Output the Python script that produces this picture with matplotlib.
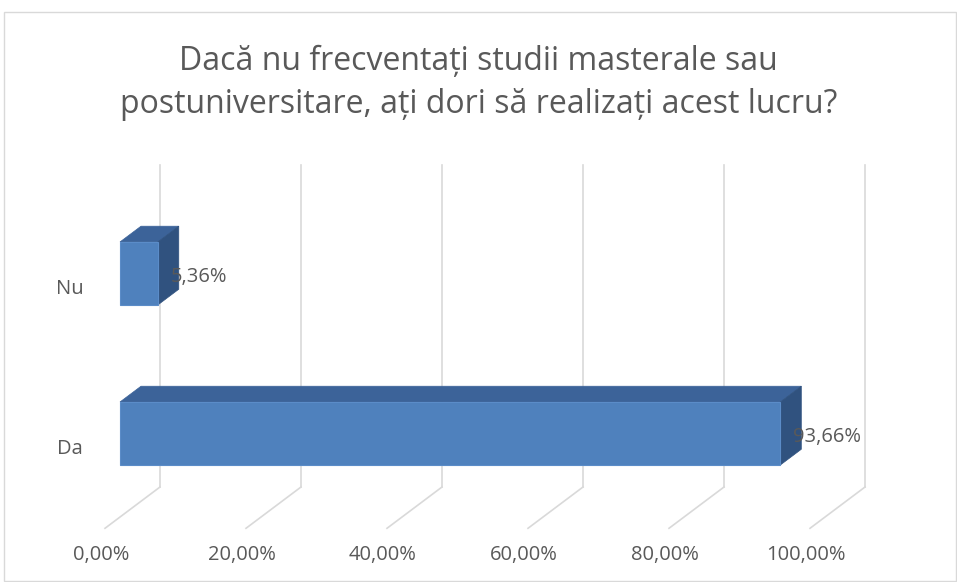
import matplotlib.pyplot as plt
from matplotlib.patches import Polygon, Rectangle

# Data
categories = ["Da", "Nu"]
values = [93.66, 5.36]
value_labels = ["93,66%", "5,36%"]
ticks = [0, 20, 40, 60, 80, 100]
tick_labels = ["0,00%", "20,00%", "40,00%", "60,00%", "80,00%", "100,00%"]
title = "Dacă nu frecventați studii masterale sau\npostuniversitare, ați dori să realizați acest lucru?"

# 3D look: depth offsets (in data units for one full depth)
DX = 5.67
DY = 0.1875
BAR_DEPTH = 0.525
FLOOR_FRONT = -0.375
FLOOR_Y = -0.522
WALL_TOP = 1.49
BAR_HALF = 0.197

FRONT = "#4F81BD"
TOP = "#3C6399"
SIDE = "#30527F"
GRID = "#D9D9D9"
TEXT = "#595959"

plt.rcParams['font.family'] = ['Open Sans', 'DejaVu Sans']


def proj(v, y, d):
    return (v + d * DX, y + d * DY)


fig = plt.figure(figsize=(9.57, 5.82), dpi=100)
ax = fig.add_axes([0, 0, 1, 1])
ax.set_xlim(-17.02, 118.72)
ax.set_ylim(-0.928, 2.709)
ax.axis("off")

# chart border
fig.patches.append(Rectangle((4 / 957, 0.002), 952 / 957, 1 - 12 / 582 - 0.002,
                             transform=fig.transFigure, fill=False,
                             edgecolor="#D9D9D9", lw=1))

# gridlines: back wall verticals and floor diagonals
for t in ticks:
    x0, y0 = proj(t, FLOOR_Y, 1)
    x1, y1 = proj(t, WALL_TOP, 1)
    ax.plot([x0, x1], [y0, y1], color=GRID, lw=1.2, zorder=1)
    x2, y2 = proj(t, FLOOR_Y, FLOOR_FRONT)
    ax.plot([x2, x0], [y2, y0], color=GRID, lw=1.2, zorder=1)

# bars
for i, v in enumerate(values):
    lo, hi = i - BAR_HALF, i + BAR_HALF
    top = [proj(0, hi, 0), proj(v, hi, 0), proj(v, hi, BAR_DEPTH), proj(0, hi, BAR_DEPTH)]
    side = [proj(v, lo, 0), proj(v, hi, 0), proj(v, hi, BAR_DEPTH), proj(v, lo, BAR_DEPTH)]
    ax.add_patch(Polygon(top, closed=True, facecolor=TOP, edgecolor=TOP, lw=0.5, zorder=3))
    ax.add_patch(Polygon(side, closed=True, facecolor=SIDE, edgecolor=SIDE, lw=0.5, zorder=3))
    ax.add_patch(Rectangle((0, lo), v, hi - lo, facecolor=FRONT, edgecolor="#5B8CC8",
                           lw=0.8, zorder=4))
    ax.text(v + 1.8, i - 0.022, value_labels[i], ha="left", va="center",
            fontsize=14.5, color=TEXT, zorder=5)

# category labels
for i, c in enumerate(categories):
    x, y = proj(0, i, FLOOR_FRONT)
    ax.text(x - 3.1, y - 0.028, c, ha="right", va="center", fontsize=14.5, color=TEXT)

# value axis labels
for t, lab in zip(ticks, tick_labels):
    x, y = proj(t, FLOOR_Y, FLOOR_FRONT)
    ax.text(x - 0.6, -0.757, lab, ha="center", va="center", fontsize=14.5, color=TEXT)

ax.text(0.5, 0.857, title, transform=fig.transFigure, ha="center", va="center",
        fontsize=23, color=TEXT, linespacing=1.38)

fig.savefig("out.png", dpi=100)
